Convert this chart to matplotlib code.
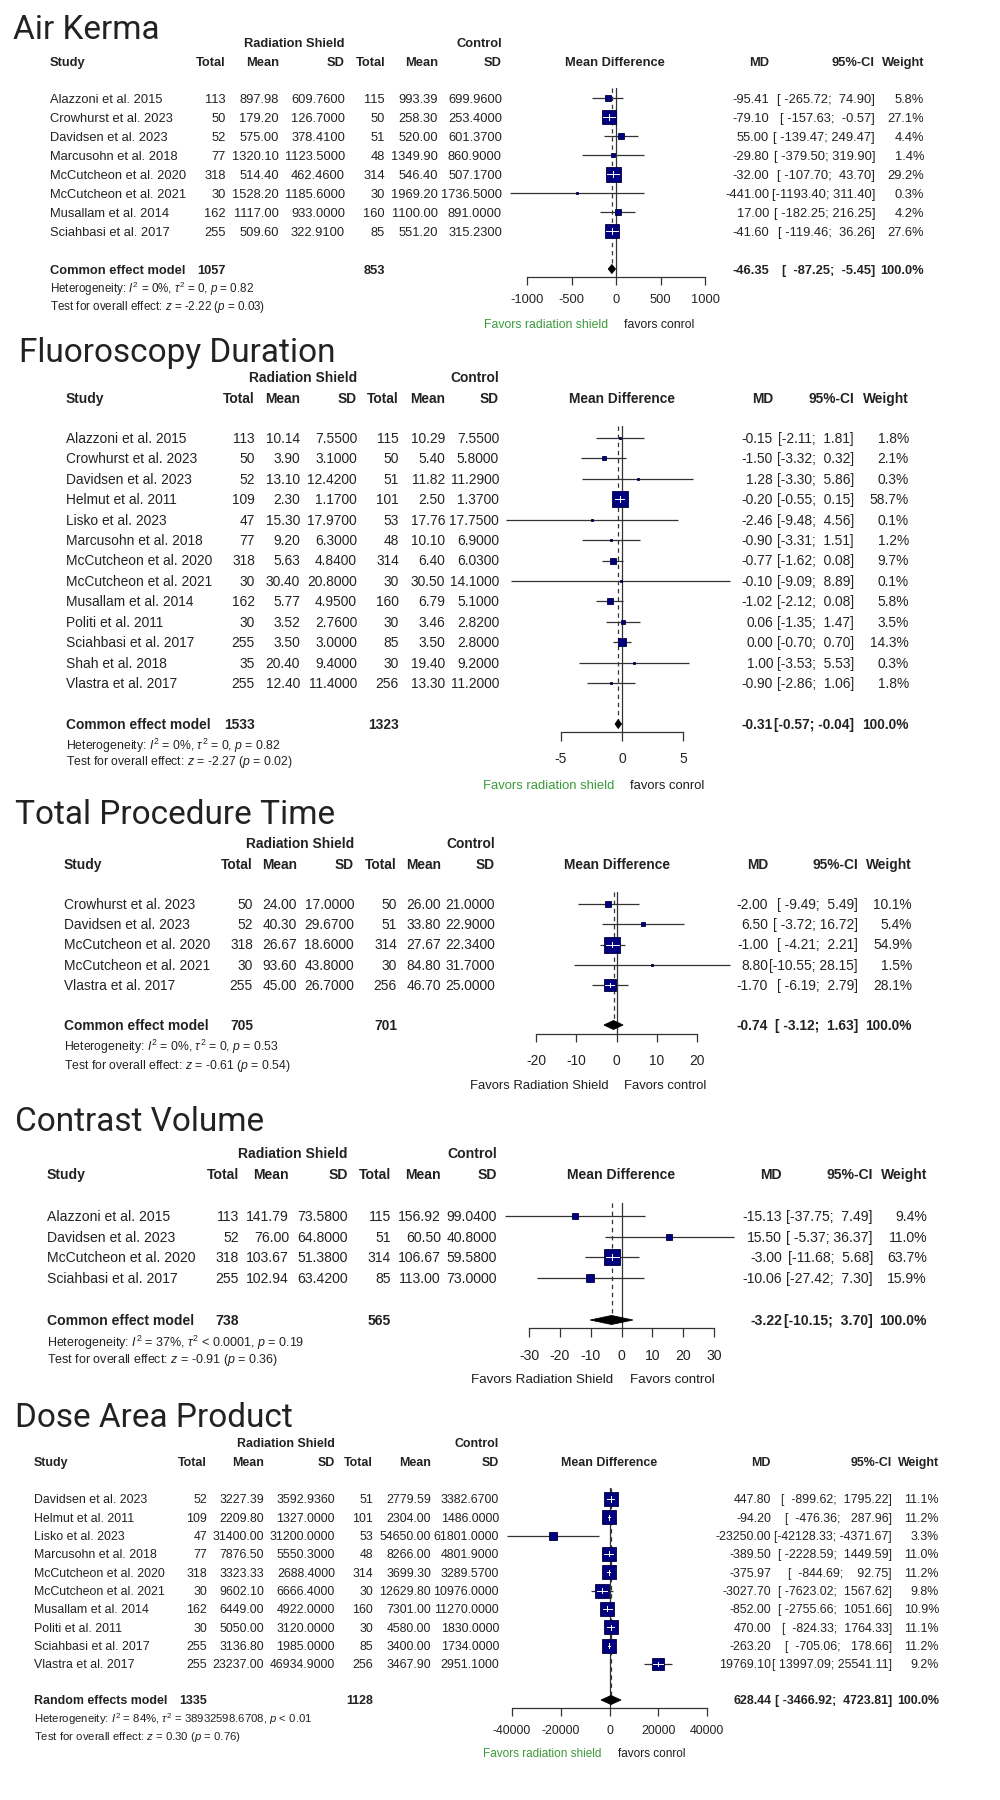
import numpy as np
import matplotlib
matplotlib.use("Agg")
import matplotlib.pyplot as plt
from matplotlib.patches import Polygon

plt.rcParams['font.family'] = ['Liberation Sans', 'DejaVu Sans']
plt.rcParams['mathtext.fontset'] = 'custom'
plt.rcParams['mathtext.rm'] = 'Liberation Sans'
plt.rcParams['mathtext.it'] = 'Liberation Sans:italic'
plt.rcParams['mathtext.bf'] = 'Liberation Sans:bold'

# ---------------- DATA ----------------
# Air Kerma
ak_title = "Air Kerma"
ak_study = ["Alazzoni et al. 2015", "Crowhurst et al. 2023", "Davidsen et al. 2023", "Marcusohn et al. 2018",
            "McCutcheon et al. 2020", "McCutcheon et al. 2021", "Musallam et al. 2014", "Sciahbasi et al. 2017"]
ak_n_e = [113, 50, 52, 77, 318, 30, 162, 255]
ak_mean_e = [897.98, 179.20, 575.00, 1320.10, 514.40, 1528.20, 1117.00, 509.60]
ak_sd_e = [609.76, 126.70, 378.41, 1123.50, 462.46, 1185.60, 933.00, 322.91]
ak_n_c = [115, 50, 51, 48, 314, 30, 160, 85]
ak_mean_c = [993.39, 258.30, 520.00, 1349.90, 546.40, 1969.20, 1100.00, 551.20]
ak_sd_c = [699.96, 253.40, 601.37, 860.90, 507.17, 1736.50, 891.00, 315.23]
ak_md = [-95.41, -79.10, 55.00, -29.80, -32.00, -441.00, 17.00, -41.60]
ak_lo = [-265.72, -157.63, -139.47, -379.50, -107.70, -1193.40, -182.25, -119.46]
ak_hi = [74.90, -0.57, 249.47, 319.90, 43.70, 311.40, 216.25, 36.26]
ak_w = [5.8, 27.1, 4.4, 1.4, 29.2, 0.3, 4.2, 27.6]
ak_summary = ["Common effect model", 1057, 853, -46.35, -87.25, -5.45]
ak_het = r"Heterogeneity: $I^2$ = 0%, $\tau^2$ = 0, $p$ = 0.82"
ak_test = r"Test for overall effect: $z$ = -2.22 ($p$ = 0.03)"
ak_ticks = [-1000, -500, 0, 500, 1000]
ak_favors = ["Favors radiation shield", "favors conrol"]

# Fluoroscopy Duration
fd_title = "Fluoroscopy Duration"
fd_study = ["Alazzoni et al. 2015", "Crowhurst et al. 2023", "Davidsen et al. 2023", "Helmut et al. 2011",
            "Lisko et al. 2023", "Marcusohn et al. 2018", "McCutcheon et al. 2020", "McCutcheon et al. 2021",
            "Musallam et al. 2014", "Politi et al. 2011", "Sciahbasi et al. 2017", "Shah et al. 2018",
            "Vlastra et al. 2017"]
fd_n_e = [113, 50, 52, 109, 47, 77, 318, 30, 162, 30, 255, 35, 255]
fd_mean_e = [10.14, 3.90, 13.10, 2.30, 15.30, 9.20, 5.63, 30.40, 5.77, 3.52, 3.50, 20.40, 12.40]
fd_sd_e = [7.55, 3.10, 12.42, 1.17, 17.97, 6.30, 4.84, 20.80, 4.95, 2.76, 3.00, 9.40, 11.40]
fd_n_c = [115, 50, 51, 101, 53, 48, 314, 30, 160, 30, 85, 30, 256]
fd_mean_c = [10.29, 5.40, 11.82, 2.50, 17.76, 10.10, 6.40, 30.50, 6.79, 3.46, 3.50, 19.40, 13.30]
fd_sd_c = [7.55, 5.80, 11.29, 1.37, 17.75, 6.90, 6.03, 14.10, 5.10, 2.82, 2.80, 9.20, 11.20]
fd_md = [-0.15, -1.50, 1.28, -0.20, -2.46, -0.90, -0.77, -0.10, -1.02, 0.06, 0.00, 1.00, -0.90]
fd_lo = [-2.11, -3.32, -3.30, -0.55, -9.48, -3.31, -1.62, -9.09, -2.12, -1.35, -0.70, -3.53, -2.86]
fd_hi = [1.81, 0.32, 5.86, 0.15, 4.56, 1.51, 0.08, 8.89, 0.08, 1.47, 0.70, 5.53, 1.06]
fd_w = [1.8, 2.1, 0.3, 58.7, 0.1, 1.2, 9.7, 0.1, 5.8, 3.5, 14.3, 0.3, 1.8]
fd_summary = ["Common effect model", 1533, 1323, -0.31, -0.57, -0.04]
fd_het = r"Heterogeneity: $I^2$ = 0%, $\tau^2$ = 0, $p$ = 0.82"
fd_test = r"Test for overall effect: $z$ = -2.27 ($p$ = 0.02)"
fd_ticks = [-5, 0, 5]
fd_favors = ["Favors radiation shield", "favors conrol"]

# Total Procedure Time
tp_title = "Total Procedure Time"
tp_study = ["Crowhurst et al. 2023", "Davidsen et al. 2023", "McCutcheon et al. 2020",
            "McCutcheon et al. 2021", "Vlastra et al. 2017"]
tp_n_e = [50, 52, 318, 30, 255]
tp_mean_e = [24.00, 40.30, 26.67, 93.60, 45.00]
tp_sd_e = [17.00, 29.67, 18.60, 43.80, 26.70]
tp_n_c = [50, 51, 314, 30, 256]
tp_mean_c = [26.00, 33.80, 27.67, 84.80, 46.70]
tp_sd_c = [21.00, 22.90, 22.34, 31.70, 25.00]
tp_md = [-2.00, 6.50, -1.00, 8.80, -1.70]
tp_lo = [-9.49, -3.72, -4.21, -10.55, -6.19]
tp_hi = [5.49, 16.72, 2.21, 28.15, 2.79]
tp_w = [10.1, 5.4, 54.9, 1.5, 28.1]
tp_summary = ["Common effect model", 705, 701, -0.74, -3.12, 1.63]
tp_het = r"Heterogeneity: $I^2$ = 0%, $\tau^2$ = 0, $p$ = 0.53"
tp_test = r"Test for overall effect: $z$ = -0.61 ($p$ = 0.54)"
tp_ticks = [-20, -10, 0, 10, 20]
tp_favors = ["Favors Radiation Shield", "Favors control"]

# Contrast Volume
cv_title = "Contrast Volume"
cv_study = ["Alazzoni et al. 2015", "Davidsen et al. 2023", "McCutcheon et al. 2020", "Sciahbasi et al. 2017"]
cv_n_e = [113, 52, 318, 255]
cv_mean_e = [141.79, 76.00, 103.67, 102.94]
cv_sd_e = [73.58, 64.80, 51.38, 63.42]
cv_n_c = [115, 51, 314, 85]
cv_mean_c = [156.92, 60.50, 106.67, 113.00]
cv_sd_c = [99.04, 40.80, 59.58, 73.00]
cv_md = [-15.13, 15.50, -3.00, -10.06]
cv_lo = [-37.75, -5.37, -11.68, -27.42]
cv_hi = [7.49, 36.37, 5.68, 7.30]
cv_w = [9.4, 11.0, 63.7, 15.9]
cv_summary = ["Common effect model", 738, 565, -3.22, -10.15, 3.70]
cv_het = r"Heterogeneity: $I^2$ = 37%, $\tau^2$ < 0.0001, $p$ = 0.19"
cv_test = r"Test for overall effect: $z$ = -0.91 ($p$ = 0.36)"
cv_ticks = [-30, -20, -10, 0, 10, 20, 30]
cv_favors = ["Favors Radiation Shield", "Favors control"]

# Dose Area Product
dp_title = "Dose Area Product"
dp_study = ["Davidsen et al. 2023", "Helmut et al. 2011", "Lisko et al. 2023", "Marcusohn et al. 2018",
            "McCutcheon et al. 2020", "McCutcheon et al. 2021", "Musallam et al. 2014", "Politi et al. 2011",
            "Sciahbasi et al. 2017", "Vlastra et al. 2017"]
dp_n_e = [52, 109, 47, 77, 318, 30, 162, 30, 255, 255]
dp_mean_e = [3227.39, 2209.80, 31400.00, 7876.50, 3323.33, 9602.10, 6449.00, 5050.00, 3136.80, 23237.00]
dp_sd_e = [3592.936, 1327.0, 31200.0, 5550.3, 2688.4, 6666.4, 4922.0, 3120.0, 1985.0, 46934.9]
dp_n_c = [51, 101, 53, 48, 314, 30, 160, 30, 85, 256]
dp_mean_c = [2779.59, 2304.00, 54650.00, 8266.00, 3699.30, 12629.80, 7301.00, 4580.00, 3400.00, 3467.90]
dp_sd_c = [3382.67, 1486.0, 61801.0, 4801.9, 3289.57, 10976.0, 11270.0, 1830.0, 1734.0, 2951.1]
dp_md = [447.80, -94.20, -23250.00, -389.50, -375.97, -3027.70, -852.00, 470.00, -263.20, 19769.10]
dp_lo = [-899.62, -476.36, -42128.33, -2228.59, -844.69, -7623.02, -2755.66, -824.33, -705.06, 13997.09]
dp_hi = [1795.22, 287.96, -4371.67, 1449.59, 92.75, 1567.62, 1051.66, 1764.33, 178.66, 25541.11]
dp_w = [11.1, 11.2, 3.3, 11.0, 11.2, 9.8, 10.9, 11.1, 11.2, 9.2]
dp_summary = ["Random effects model", 1335, 1128, 628.44, -3466.92, 4723.81]
dp_het = r"Heterogeneity: $I^2$ = 84%, $\tau^2$ = 38932598.6708, $p$ < 0.01"
dp_test = r"Test for overall effect: $z$ = 0.30 ($p$ = 0.76)"
dp_ticks = [-40000, -20000, 0, 20000, 40000]
dp_favors = ["Favors radiation shield", "favors conrol"]


def bundle(p):
    g = globals()
    return {k: g[p + "_" + k] for k in ["title", "study", "n_e", "mean_e", "sd_e", "n_c", "mean_c", "sd_c",
                                         "md", "lo", "hi", "w", "summary", "het", "test", "ticks", "favors"]}


# ---------------- LAYOUT (pixel positions) ----------------
GREEN = '#3a9a3a'
BLACK = '#1e1e1e'
layouts = [
    dict(key="ak", title_x=13, title_base=39, fs=9.3, hfs=8.4, fav_colors=(GREEN, BLACK),
         y_group=42, y_head=61, y_row0=98, dy=19.0, y_sum=269, y_het=289, y_test=306,
         cols=dict(study=50, n_e=226, m_e=279, s_e=345, n_c=385, m_c=438, s_c=502, mdh=615, md=769, ci=875, w=924),
         fx=(527, 705), top=88, axis_y=277, tick_len=8, tick_pad=9, fav_y=324, smax=15.0),
    dict(key="fd", title_x=19, title_base=362, fs=9.9, hfs=8.8, fav_colors=(GREEN, BLACK),
         y_group=377, y_head=398, y_row0=438, dy=20.42, y_sum=724, y_het=746, y_test=761,
         cols=dict(study=66, n_e=255, m_e=300, s_e=357, n_c=399, m_c=445, s_c=499, mdh=622, md=773, ci=854, w=909),
         fx=(561, 683), top=426, axis_y=732, tick_len=9, tick_pad=11, fav_y=784, smax=16.0),
    dict(key="tp", title_x=15, title_base=824, fs=9.9, hfs=8.8, fav_colors=(BLACK, BLACK),
         y_group=843, y_head=864, y_row0=904, dy=20.25, y_sum=1025, y_het=1047, y_test=1065,
         cols=dict(study=64, n_e=253, m_e=297, s_e=354, n_c=397, m_c=441, s_c=495, mdh=617, md=768, ci=858, w=912),
         fx=(536, 697), top=892, axis_y=1034, tick_len=8, tick_pad=12, fav_y=1084, smax=15.5),
    dict(key="cv", title_x=15, title_base=1131, fs=10.1, hfs=9.0, fav_colors=(BLACK, BLACK),
         y_group=1153, y_head=1174, y_row0=1216, dy=20.67, y_sum=1320, y_het=1342, y_test=1359,
         cols=dict(study=47, n_e=239, m_e=289, s_e=348, n_c=391, m_c=441, s_c=497, mdh=621, md=782, ci=873, w=927),
         fx=(529, 714), top=1203, axis_y=1328, tick_len=9, tick_pad=12, fav_y=1378, smax=16.0),
    dict(key="dp", title_x=15, title_base=1427, fs=8.9, hfs=8.2, fav_colors=(GREEN, BLACK),
         y_group=1443, y_head=1462, y_row0=1499, dy=18.33, y_sum=1700, y_het=1719, y_test=1736,
         cols=dict(study=34, n_e=207, m_e=264, s_e=335, n_c=373, m_c=431, s_c=499, mdh=609, md=771, ci=892, w=939),
         fx=(512, 707), top=1488, axis_y=1708, tick_len=8, tick_pad=9, fav_y=1753, smax=14.0),
]

TXT = '#222222'
NAVY = '#00007f'
LINE = '#333333'
W, H = 1000, 1800

fig = plt.figure(figsize=(10, 18), dpi=100)
bg = fig.add_axes([0, 0, 1, 1])
bg.set_xlim(0, W)
bg.set_ylim(H, 0)
bg.axis('off')


def T(x, y, s, size, ha='left', weight='normal', color=TXT, **kw):
    # y is the vertical centre of the digits/capitals (in pixels)
    base = y + 0.36 * size * 100 / 72
    bg.text(x, base, s, ha=ha, va='baseline', fontsize=size, fontweight=weight, color=color, **kw)


def fmt_ci(lo, hi):
    los = [f"{v:.2f}" for v in lo]
    his = [f"{v:.2f}" for v in hi]
    wl = max(len(s) for s in los)
    wh = max(len(s) for s in his)
    return [f"[{a:>{wl}}; {b:>{wh}}]" for a, b in zip(los, his)]


for L in layouts:
    D = bundle(L["key"])
    c = L["cols"]
    fs = L["fs"]
    n = len(D["study"])
    rows_y = [L["y_row0"] + i * L["dy"] for i in range(n)]

    # title
    bg.text(L["title_x"], L["title_base"], D["title"], fontsize=24, family=['Roboto', 'DejaVu Sans'],
            color='#222222', va='baseline', ha='left')

    # headers
    T(c["s_e"], L["y_group"], "Radiation Shield", fs, ha='right', weight='bold')
    T(c["s_c"], L["y_group"], "Control", fs, ha='right', weight='bold')
    T(c["study"], L["y_head"], "Study", fs, weight='bold')
    for k, lab in [("n_e", "Total"), ("m_e", "Mean"), ("s_e", "SD"), ("n_c", "Total"), ("m_c", "Mean"),
                   ("s_c", "SD"), ("md", "MD"), ("ci", "95%-CI"), ("w", "Weight")]:
        T(c[k], L["y_head"], lab, fs, ha='right', weight='bold')
    T(c["mdh"], L["y_head"], "Mean Difference", fs, ha='center', weight='bold')

    s = D["summary"]
    cis = fmt_ci(list(D["lo"]) + [s[4]], list(D["hi"]) + [s[5]])

    # study rows
    for i in range(n):
        y = rows_y[i]
        T(c["study"], y, D["study"][i], fs)
        T(c["n_e"], y, f"{D['n_e'][i]}", fs, ha='right')
        T(c["m_e"], y, f"{D['mean_e'][i]:.2f}", fs, ha='right')
        T(c["s_e"], y, f"{D['sd_e'][i]:.4f}", fs, ha='right')
        T(c["n_c"], y, f"{D['n_c'][i]}", fs, ha='right')
        T(c["m_c"], y, f"{D['mean_c'][i]:.2f}", fs, ha='right')
        T(c["s_c"], y, f"{D['sd_c'][i]:.4f}", fs, ha='right')
        T(c["md"], y, f"{D['md'][i]:.2f}", fs, ha='right')
        T(c["ci"], y, cis[i], fs, ha='right')
        T(c["w"], y, f"{D['w'][i]:.1f}%", fs, ha='right')

    # summary row
    ys = L["y_sum"]
    T(c["study"], ys, s[0], fs, weight='bold')
    T(c["n_e"], ys, f"{s[1]}", fs, ha='right', weight='bold')
    T(c["n_c"], ys, f"{s[2]}", fs, ha='right', weight='bold')
    T(c["md"], ys, f"{s[3]:.2f}", fs, ha='right', weight='bold')
    T(c["ci"], ys, cis[-1], fs, ha='right', weight='bold')
    T(c["w"], ys, "100.0%", fs, ha='right', weight='bold')
    T(c["study"], L["y_het"], D["het"], L["hfs"])
    T(c["study"], L["y_test"], D["test"], L["hfs"])

    # forest axes
    t0, t1 = D["ticks"][0], D["ticks"][-1]
    x0, x1 = L["fx"]
    top, ay = L["top"], L["axis_y"]
    ax = fig.add_axes([x0 / W, 1 - ay / H, (x1 - x0) / W, (ay - top) / H])
    ax.set_xlim(t0, t1)
    ax.set_ylim(ay, top)
    ax.patch.set_visible(False)
    for sp in ["left", "right", "top"]:
        ax.spines[sp].set_visible(False)
    ax.spines["bottom"].set_color(LINE)
    ax.spines["bottom"].set_linewidth(0.9)
    ax.set_yticks([])
    ax.set_xticks(D["ticks"])
    ax.set_xticklabels([f"{t}" for t in D["ticks"]])
    ax.tick_params(axis='x', direction='out', length=L["tick_len"] * 0.72, width=0.9, color=LINE,
                   pad=L["tick_pad"] * 0.72, labelsize=fs, labelcolor=TXT)
    ppu = (x1 - x0) / (t1 - t0)  # pixels per data unit

    # null line and summary dashed line
    ax.axvline(0, color=LINE, lw=0.9, zorder=1)
    dh = 4.5
    ax.plot([s[3], s[3]], [top, ys - dh], color=LINE, lw=0.9, ls=(0, (3.5, 3)), zorder=1)

    wmax = max(D["w"])
    for i in range(n):
        y = rows_y[i]
        md, lo, hi, w = D["md"][i], D["lo"][i], D["hi"][i], D["w"][i]
        ax.plot([lo, hi], [y, y], color=LINE, lw=0.9, zorder=2, clip_on=False, solid_capstyle='butt')
        side = max(L["smax"] * np.sqrt(w / wmax), 2.5)
        ax.plot([md], [y], marker='s', ms=side * 0.72, mfc=NAVY, mec='#000040', mew=0.6,
                zorder=3, clip_on=False, ls='none')
        if side > 9:
            half = side / 2 / ppu
            a, b = max(lo, md - half * 0.8), min(hi, md + half * 0.8)
            ax.plot([a, b], [y, y], color='white', lw=0.7, zorder=4, clip_on=False)
            ax.plot([md, md], [y - side * 0.18, y + side * 0.18], color='white', lw=0.7, zorder=4, clip_on=False)

    # summary diamond
    dia = Polygon([(s[4], ys), (s[3], ys - dh), (s[5], ys), (s[3], ys + dh)], closed=True,
                  facecolor='black', edgecolor='black', lw=0.6, zorder=3, clip_on=False)
    ax.add_patch(dia)

    # favours labels
    null_px = x0 + (0 - t0) * ppu
    T(null_px - 8, L["fav_y"], D["favors"][0], fs * 0.95, ha='right', color=L["fav_colors"][0])
    T(null_px + 8, L["fav_y"], D["favors"][1], fs * 0.95, ha='left', color=L["fav_colors"][1])

fig.savefig("out.png", dpi=100, facecolor='white')
